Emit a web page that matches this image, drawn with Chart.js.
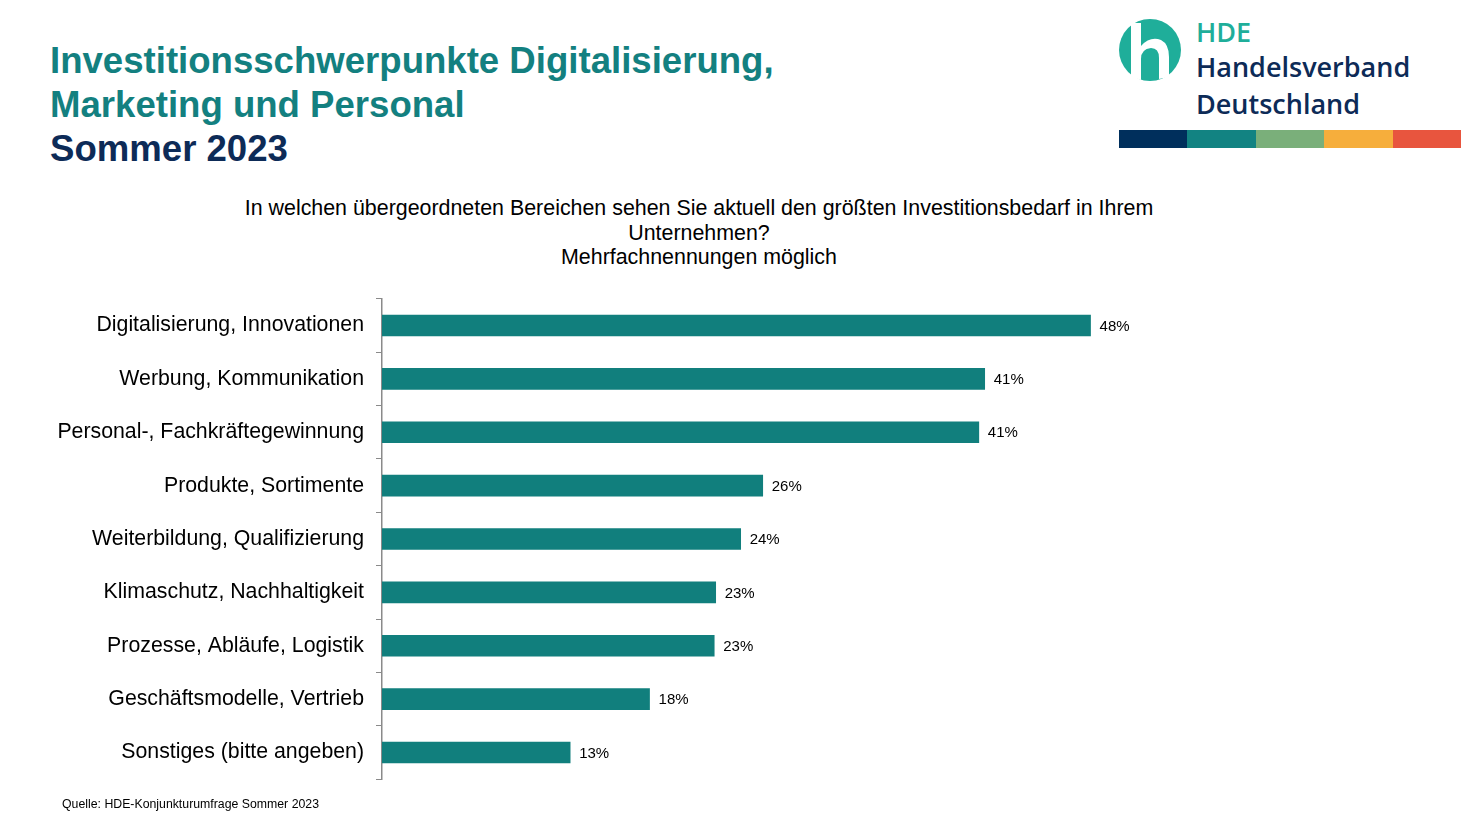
<!DOCTYPE html>
<html>
<head>
<meta charset="utf-8">
<script src="https://cdn.jsdelivr.net/npm/chart.js@4/dist/chart.umd.min.js"></script>
<style>
  html, body { margin: 0; padding: 0; background: #fff; }
  body { width: 1461px; height: 822px; position: relative; overflow: hidden; font-family: "Liberation Sans", Arial, sans-serif; }
  .title { position: absolute; left: 50px; top: 39px; font-weight: bold; font-size: 36.6px; line-height: 44px; color: #138080; }
  .title .dark { color: #0d2b57; }
  .question { position: absolute; left: 149px; width: 1100px; top: 196px; text-align: center; font-size: 21.4px; line-height: 24.5px; color: #000; }
  .source { position: absolute; left: 62px; top: 797px; font-size: 12.3px; color: #000; }
  .logo-text { position: absolute; left: 1196px; font-family: "Open Sans", "DejaVu Sans", sans-serif; font-weight: 600; font-size: 27px; line-height: 36px; }
  .colorbar { position: absolute; left: 1119px; top: 130px; height: 18px; width: 342px; display: flex; }
  .colorbar div { flex: 1; }
  #wrap { position: absolute; left: 0; top: 274px; width: 1461px; height: 530px; }
</style>
</head>
<body>
<div class="title">Investitionsschwerpunkte Digitalisierung,<br>Marketing und Personal<br><span class="dark">Sommer 2023</span></div>

<svg style="position:absolute;left:1117px;top:17px" width="66" height="66" viewBox="0 0 66 66">
  <circle cx="33" cy="33" r="31" fill="#1fae9a"/>
  <path d="M14 6 L24 6 L24 29 Q33 19 44 23 Q52 27 52 40 L52 60 L42 62 L42 41 Q42 31 34 31 Q24 32 24 42 L24 63 L14 60 Z" fill="#fff"/>
</svg>
<div class="logo-text" style="top:14px;color:#1fae9a;">HDE</div>
<div class="logo-text" style="top:49px;color:#0d2b57;">Handelsverband</div>
<div class="logo-text" style="top:86px;color:#0d2b57;">Deutschland</div>
<div class="colorbar">
  <div style="background:#002f5c"></div>
  <div style="background:#128382"></div>
  <div style="background:#7aaf7a"></div>
  <div style="background:#f6ae3c"></div>
  <div style="background:#e8553e"></div>
</div>

<div class="question">In welchen übergeordneten Bereichen sehen Sie aktuell den größten Investitionsbedarf in Ihrem<br>Unternehmen?<br>Mehrfachnennungen möglich</div>

<div id="wrap"><canvas id="c" width="1461" height="530"></canvas></div>

<div class="source">Quelle: HDE-Konjunkturumfrage Sommer 2023</div>

<script>
const categories = [
  "Digitalisierung, Innovationen",
  "Werbung, Kommunikation",
  "Personal-, Fachkräftegewinnung",
  "Produkte, Sortimente",
  "Weiterbildung, Qualifizierung",
  "Klimaschutz, Nachhaltigkeit",
  "Prozesse, Abläufe, Logistik",
  "Geschäftsmodelle, Vertrieb",
  "Sonstiges (bitte angeben)"
];
const shares = [48.2, 41.0, 40.6, 25.9, 24.4, 22.7, 22.6, 18.2, 12.8];
const valueLabels = ["48%", "41%", "41%", "26%", "24%", "23%", "23%", "18%", "13%"];

const valueLabelPlugin = {
  id: 'valueLabels',
  afterDatasetsDraw(chart) {
    const ctx = chart.ctx;
    const meta = chart.getDatasetMeta(0);
    ctx.save();
    ctx.font = '15px "Liberation Sans", Arial, sans-serif';
    ctx.fillStyle = '#000';
    ctx.textAlign = 'left';
    ctx.textBaseline = 'middle';
    meta.data.forEach((bar, i) => {
      ctx.fillText(valueLabels[i], bar.x + 9, bar.y + 1);
    });
    ctx.restore();
  }
};

new Chart(document.getElementById('c'), {
  type: 'bar',
  data: {
    labels: categories,
    datasets: [{
      data: shares,
      backgroundColor: '#117f7d',
      borderWidth: 0,
      barThickness: 21
    }]
  },
  options: {
    indexAxis: 'y',
    responsive: false,
    animation: false,
    layout: { padding: { top: 0, bottom: 0, left: 0, right: 197 } },
    plugins: { legend: { display: false }, tooltip: { enabled: false } },
    scales: {
      x: { display: false, min: 0, max: 60 },
      y: {
        afterFit(scale) { scale.width = 382; },
        grid: { offset: true, drawOnChartArea: false, drawTicks: true, tickLength: 6, color: '#8a8a8a', lineWidth: 1 },
        border: { display: true, color: '#8a8a8a', width: 1.5 },
        ticks: { color: '#000', padding: 12, font: { size: 21.3, family: '"Liberation Sans", Arial, sans-serif' } }
      }
    }
  },
  plugins: [valueLabelPlugin]
});
</script>
</body>
</html>
